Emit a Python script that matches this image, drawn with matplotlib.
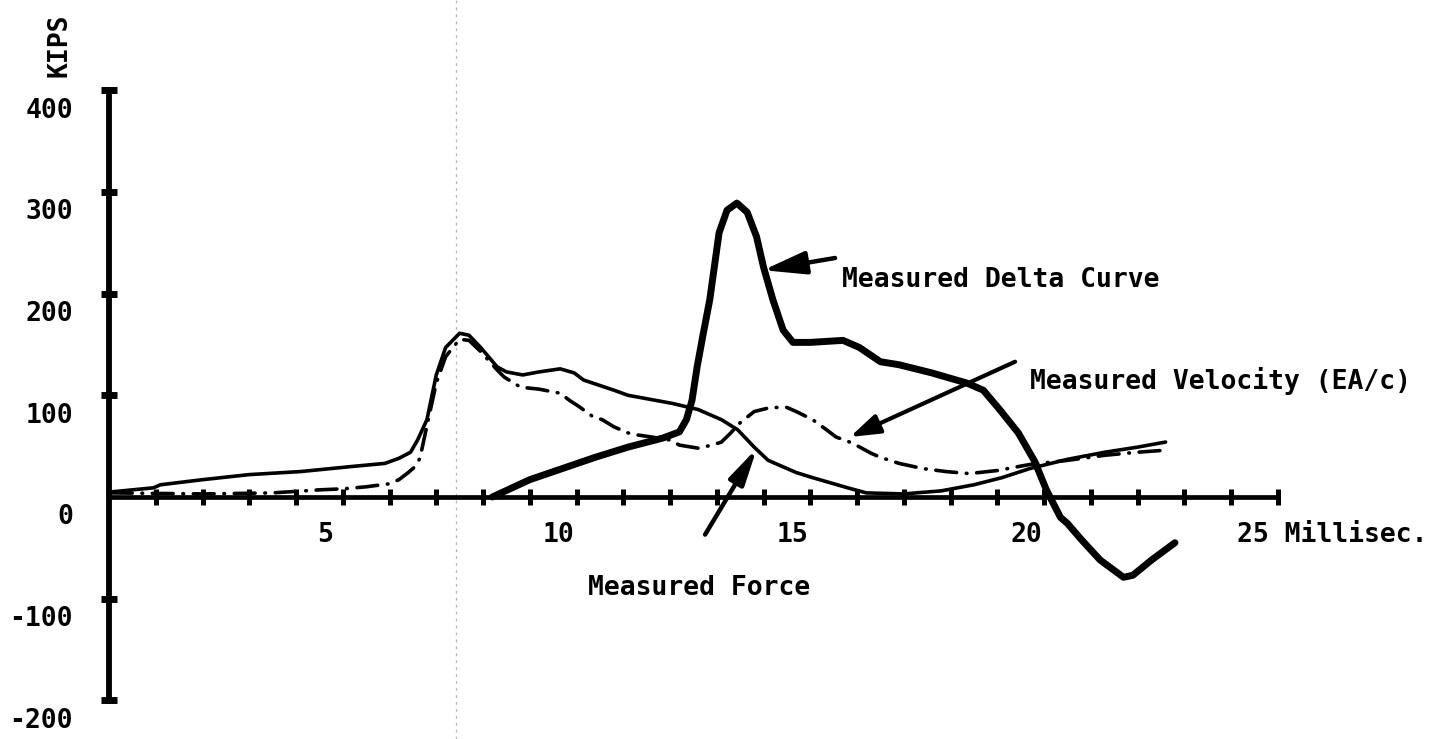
import matplotlib
matplotlib.use("Agg")
import matplotlib.pyplot as plt

plt.rcParams['lines.scale_dashes'] = False

# ---------------- data (time in ms, value in kips) ----------------
force_t = [0.05, 0.95, 1.1, 2.0, 3.0, 4.1, 5.2, 5.9, 6.2, 6.45, 6.6, 6.8, 7.0, 7.2, 7.5, 7.7,
           7.95, 8.3, 8.5, 8.85, 9.2, 9.65, 9.95, 10.15, 10.8, 11.1, 12.05, 12.6, 13.1, 13.45,
           13.8, 14.1, 14.7, 15.05, 15.8, 16.2, 17.0, 17.8, 18.5, 19.1, 19.7, 20.5, 21.3, 22.0, 22.6]
force_k = [5, 9, 12, 17, 22, 25, 30, 33, 38, 44, 56, 76, 120, 147, 161, 159,
           147, 128, 123, 120, 123, 126, 122, 115, 105, 100, 92, 86, 76, 66,
           49, 36, 24, 19, 9, 4, 3, 6, 12, 19, 28, 37, 44, 49, 54]

velocity_t = [0.05, 2.0, 3.5, 4.5, 5.0, 5.5, 6.0, 6.2, 6.4, 6.55, 6.65, 6.8, 7.0, 7.2, 7.5, 7.7,
              7.95, 8.3, 8.45, 8.8, 9.0, 9.2, 9.65, 9.85, 10.05, 10.35, 10.55, 10.8, 11.1, 11.3,
              11.6, 12.0, 12.2, 12.6, 12.9, 13.1, 13.3, 13.5, 13.8, 14.15, 14.5, 14.7, 15.05,
              15.35, 15.55, 15.9, 16.3, 16.5, 16.9, 17.4, 17.9, 18.4, 19.0, 19.7, 20.5, 21.3,
              22.0, 22.6]
velocity_k = [4, 3, 4, 7, 8, 10, 13, 17, 24, 30, 38, 70, 112, 138, 155, 154,
              143, 125, 118, 108, 107, 106, 102, 95, 89, 79, 76, 69, 63, 61,
              59, 56, 51, 48, 51, 54, 63, 73, 84, 88, 88, 84, 76,
              66, 59, 53, 43, 39, 33, 28, 25, 23, 26, 32, 36, 41,
              44, 46]

delta_t = [8.2, 9.0, 9.7, 10.4, 11.1, 11.85, 12.2, 12.35, 12.47, 12.58, 12.7, 12.85, 13.05,
           13.22, 13.43, 13.65, 13.85, 14.0, 14.2, 14.42, 14.63, 15.0, 15.7, 16.05, 16.5, 16.9,
           17.6, 18.35, 18.7, 19.05, 19.45, 19.8, 20.05, 20.35, 20.5, 20.8, 21.2, 21.7, 21.9,
           22.3, 22.8]
delta_k = [0, 17, 28, 39, 49, 58, 64, 76, 95, 128, 158, 194, 260,
           282, 289, 280, 256, 226, 194, 164, 152, 152, 154, 147, 133, 130,
           122, 112, 105, 86, 63, 35, 7, -20, -26, -42, -62, -79, -77,
           -62, -45]

x_ticks = list(range(1, 26))
x_labels = ["5", "10", "15", "20"]
x_label_pos = [5, 10, 15, 20]
y_ticks = [-200, -100, 100, 200, 300, 400]
y_labels = ["400", "300", "200", "100", "0", "-100", "-200"]
y_label_pos = [400, 300, 200, 100, 0, -100, -200]
fold_x = 7.42

FONT = ["DejaVu Sans Mono"]
FS = 19

fig = plt.figure(figsize=(14.33, 7.39), dpi=100)
ax = fig.add_axes([0, 0, 1, 1])
ax.set_xlim(-2.332, 28.32)
ax.set_ylim(-238, 488.7)
ax.patch.set_alpha(0)

# faint scan fold line
ax.axvline(fold_x, color="#b5b5b5", lw=0.9, ls=(0, (2, 3)), zorder=0)

# axes
for s in ["top", "right"]:
    ax.spines[s].set_visible(False)
ax.spines["left"].set_position(("data", 0))
ax.spines["bottom"].set_position(("data", 0))
ax.spines["left"].set_bounds(-200, 400)
ax.spines["bottom"].set_bounds(0, 25)
ax.spines["left"].set_linewidth(4.2)
ax.spines["bottom"].set_linewidth(3.4)
ax.set_xticks(x_ticks)
ax.set_yticks(y_ticks)
ax.tick_params(axis="x", direction="inout", length=12, width=3.6,
               labelbottom=False)
ax.tick_params(axis="y", direction="inout", length=12, width=5,
               labelleft=False)

# curves
ax.plot(force_t, force_k, color="black", lw=2.6, solid_joinstyle="round",
        solid_capstyle="round", zorder=3)
ax.plot(velocity_t, velocity_k, color="black", lw=2.6,
        ls=(0, (15, 7, 0.5, 7)), dash_capstyle="round", zorder=3)
ax.plot(delta_t, delta_k, color="black", lw=5, solid_joinstyle="round",
        solid_capstyle="round", zorder=4)

# tick labels
for p, lab in zip(x_label_pos, x_labels):
    ax.text(p - 0.38, -44, lab, family=FONT, weight="bold", fontsize=FS,
            ha="center", va="baseline")
ax.text(25 - 0.87, -44, "25 Millisec.", family=FONT, weight="bold",
        fontsize=FS, ha="left", va="baseline")
for p, lab in zip(y_label_pos, y_labels):
    ax.text(-0.77, p - 27, lab, family=FONT, weight="bold", fontsize=FS,
            ha="right", va="baseline")
ax.text(-1.05, 444.5, "KIPS", family=FONT, weight="bold", fontsize=FS,
        rotation=90, ha="center", va="center")

# annotations
ax.text(15.68, 206.5, "Measured Delta Curve", family=FONT, weight="bold",
        fontsize=FS, ha="left", va="baseline")
ax.text(19.70, 106, "Measured Velocity (EA/c)", family=FONT, weight="bold",
        fontsize=FS, ha="left", va="baseline")
ax.text(10.25, -96, "Measured Force", family=FONT, weight="bold",
        fontsize=FS, ha="left", va="baseline")

ax.annotate("", xy=(13.99, 223), xytext=(15.53, 235),
            arrowprops=dict(arrowstyle="-|>,head_length=1.3,head_width=0.35",
                            mutation_scale=20, lw=3.2, color="black",
                            shrinkA=0, shrinkB=0))
ax.annotate("", xy=(15.85, 59), xytext=(19.38, 133),
            arrowprops=dict(arrowstyle="-|>,head_length=0.9,head_width=0.3",
                            mutation_scale=20, lw=3.0, color="black",
                            shrinkA=0, shrinkB=0))
ax.annotate("", xy=(13.86, 48), xytext=(12.75, -37),
            arrowprops=dict(arrowstyle="-|>,head_length=1.1,head_width=0.25",
                            mutation_scale=20, lw=3.2, color="black",
                            shrinkA=0, shrinkB=0))

fig.savefig("out.png", dpi=100, facecolor="white")
